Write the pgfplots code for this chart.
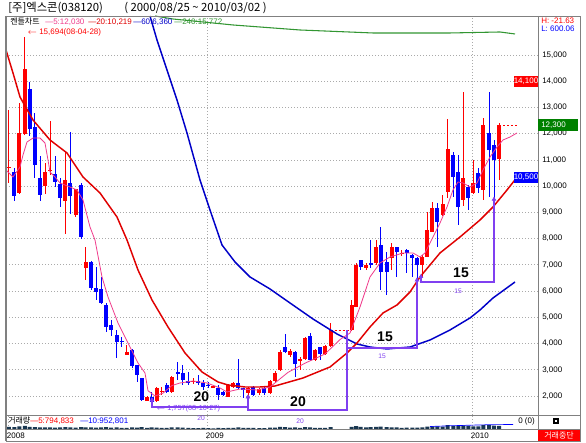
\documentclass[border=0pt]{standalone}
\usepackage{fontspec}
\setmainfont{Liberation Sans}
\newfontfamily\kr{Noto Sans CJK KR}
\usepackage{pgfplots}
\usepackage{pgfplotstable}
\pgfplotsset{compat=1.18}
\definecolor{cred}{RGB}{255,0,0}
\definecolor{cblue}{RGB}{0,0,255}
\definecolor{ma5}{RGB}{240,60,140}
\definecolor{ma20}{RGB}{224,0,0}
\definecolor{ma60}{RGB}{0,0,200}
\definecolor{ma240}{RGB}{50,150,50}
\definecolor{vio}{RGB}{128,64,240}
\definecolor{frame}{RGB}{128,128,128}
\definecolor{gridc}{RGB}{170,170,170}
\definecolor{gbox}{RGB}{0,128,0}
\definecolor{volc}{RGB}{25,55,80}
\newcommand\fs{\fontsize{6}{7}\selectfont}

\pgfplotstableread{
x o h l c
9 10700 12897 10103 10740
19.3 9747 13151 9700 12033
25 11982 15694 11950 14446
45 10001 10890 9696 10547
50 10580 12478 10420 10611
65.3 9430 11335 8172 10230
75.7 8896 9900 8807 9874
85.7 6864 7690 6420 7118
126.7 3562 3943 3560 3689
147 1820 1990 1800 1950
156.7 1822 2330 1790 2292
161.7 2150 2350 2050 2200
171.7 2165 2780 2130 2737
193.3 2540 2700 2450 2570
213.3 2330 2400 2300 2360
228.3 1975 2450 1950 2419
233.3 2330 2530 2300 2483
248.3 2102 2330 1975 2292
259.3 2102 2300 2050 2254
270 2102 2620 2080 2584
275 2584 2950 2550 2889
280 3000 3752 2970 3660
290 3562 3800 3500 3714
300 3370 3499 2990 3397
305 3397 4261 3370 4198
315 3372 3800 3350 3753
325 3600 3950 3580 3905
330.7 3905 4770 3880 4515
351.7 4515 5657 4515 5467
356 5404 7050 5380 6991
366 6864 7050 6800 6991
376 7055 7944 6990 7690
391.7 7245 7817 6801 7690
401.7 7420 7560 7330 7450
422.3 6991 7370 6547 7308
427.3 7308 9023 7280 8325
432.3 8261 9404 8230 9175
442.7 8896 9658 8860 9302
447.7 9785 12541 9531 11398
463.3 9468 13595 9230 10293
473.3 9722 10992 9700 10102
483.3 9849 12579 9468 12325
499 11017 12400 10230 12325
}\up

\pgfplotstableread{
x o h l c
14.3 10547 10674 9442 9620
29.7 13684 13976 11890 12160
35 12236 12795 10293 10801
40 10293 11144 9442 9658
55 10445 11144 9975 10166
60 10064 10293 9213 9556
70.3 10102 12071 8934 9620
81 10039 10100 8000 8045
91 7118 7150 6040 6102
96 6102 6928 5658 5975
101 6064 6547 5500 5556
106 5467 5530 4451 4642
111 4705 4900 4299 4515
116.7 4324 4515 3435 4070
121.7 4100 4260 3880 4070
132 3753 3800 3050 3143
137 3180 3200 2546 2800
141.7 2674 2700 1800 1848
151.7 1975 2165 1757 1783
166.7 2419 2483 2102 2165
177.7 2900 3308 2610 2860
182.7 2864 3181 2419 2610
188.3 2560 2927 2420 2540
198.3 2560 2800 2400 2500
203.3 2483 2610 2229 2330
208.3 2420 2550 2300 2380
218.3 2292 2419 1848 2038
223.3 2165 2200 1990 2038
238.3 2483 3397 2250 2292
243.3 2300 2320 1910 2260
253.3 2330 2380 2000 2038
264.3 2292 2330 2050 2102
285 3879 4362 3650 3688
295 3688 3700 2737 3219
310 4286 4388 3346 3372
320 3855 3880 3372 3600
360.7 7182 7200 6801 6927
370.7 7050 7944 6864 7000
380.7 7753 8450 6039 6737
386.7 7118 7499 5848 6737
396.7 7664 7690 6522 7499
406.7 7550 7600 6674 7450
412.3 7372 7420 6547 7245
417.3 7245 7300 6420 7000
437.3 9175 9370 7690 8642
453.3 11182 11300 9595 10357
458.3 10547 11182 8515 9214
468.3 9976 10050 9087 9531
478.3 10484 10700 9722 9912
489 12008 13595 9595 11373
494 11563 11754 9494 10992
}\down

\pgfplotstableread{
x v
9 2200
14.3 1800
19.3 2600
25 3000
29.7 2200
35 1900
40 1700
45 1500
50 1600
55 1400
60 1500
65.3 1900
70.3 1700
75.7 1400
81 1800
85.7 1600
91 1500
96 1400
101 1500
106 1800
111 1300
116.7 1600
121.7 1200
126.7 1100
132 1500
137 1400
141.7 1900
147 1200
151.7 1500
156.7 1400
161.7 1100
166.7 1000
171.7 1500
177.7 1600
182.7 1300
188.3 1000
193.3 900
198.3 900
203.3 1000
208.3 800
213.3 700
218.3 1100
223.3 900
228.3 1200
233.3 1000
238.3 1500
243.3 1000
248.3 1100
253.3 1000
259.3 900
264.3 900
270 1300
275 1400
280 2000
285 1800
290 1300
295 1500
300 1200
305 1800
310 1700
315 1200
320 1100
325 1200
330.7 1800
351.7 2200
356 2800
360.7 2000
366 1500
370.7 1800
376 2000
380.7 2400
386.7 1900
391.7 1700
396.7 1600
401.7 1200
406.7 1400
412.3 1300
417.3 1400
422.3 1500
427.3 2400
432.3 2600
437.3 2500
442.7 2300
447.7 3800
453.3 3200
458.3 3400
463.3 3600
468.3 2800
473.3 2600
478.3 2700
483.3 3800
489 3900
494 3300
499 3000
}\vol

\begin{document}
\begin{tikzpicture}
\path[use as bounding box] (0,0) rectangle (439.5pt,332.25pt);
\fill[white] (0,0) rectangle (439.5pt,332.25pt);
\begin{axis}[
  at={(4.5pt,21pt)}, anchor=south west,
  scale only axis, width=399pt, height=299.25pt,
  xmin=6, xmax=538, ymin=1276, ymax=16478,
  axis line style={draw=frame},
  xtick={207,472}, xticklabels={},
  ytick={2000,3000,...,15000},
  scaled y ticks=false,
  yticklabel pos=right,
  yticklabel style={font=\fs, anchor=west, inner sep=0pt, xshift=3pt},
  /pgf/number format/fixed,
  /pgf/number format/1000 sep={,},
  /pgf/number format/assume math mode=true,
  major tick length=0pt,
  grid=major, grid style={gridc, dash pattern=on 0.75pt off 1.5pt},
  clip=true,
  candle/.style={draw=none, mark=none, error bars/.cd, y dir=both, y explicit, error mark=none},
]
% wicks
\addplot[candle, error bar style={draw=cred, line width=0.75pt}]
  table[x=x, y expr={(\thisrow{h}+\thisrow{l})/2}, y error expr={(\thisrow{h}-\thisrow{l})/2}] {\up};
\addplot[candle, error bar style={draw=cblue, line width=0.75pt}]
  table[x=x, y expr={(\thisrow{h}+\thisrow{l})/2}, y error expr={(\thisrow{h}-\thisrow{l})/2}] {\down};
% bodies
\addplot[candle, error bar style={draw=cred, line width=3pt}]
  table[x=x, y expr={(\thisrow{o}+\thisrow{c})/2}, y error expr={max(abs(\thisrow{o}-\thisrow{c})/2,20)}] {\up};
\addplot[candle, error bar style={draw=cblue, line width=3pt}]
  table[x=x, y expr={(\thisrow{o}+\thisrow{c})/2}, y error expr={max(abs(\thisrow{o}-\thisrow{c})/2,20)}] {\down};
% halted periods
\addplot[cred, dash pattern=on 1.5pt off 1.5pt, line width=0.6pt] coordinates {(330.7,4515) (351.7,4515)};
\addplot[cred, dash pattern=on 1.5pt off 1.5pt, line width=0.6pt] coordinates {(499,12325) (518,12325)};
% moving averages
\addplot[ma240, line width=0.8pt] coordinates {(155,16478) (173,16364) (233,16136) (300,15945) (373,15831) (450,15831) (500,15869) (515,15793)};
\addplot[ma60, line width=1.1pt] coordinates {(150,16478) (157,15564) (177,13278) (187,12021) (200,10230) (210,9087) (222,7754) (235,7106) (250,6535) (270,6077) (290,5544) (313,4934) (337,4363) (357,3982) (370,3867) (387,3791) (410,3867) (430,4134) (450,4515) (470,4972) (480,5277) (493,5734) (515,6344)};
\addplot[ma20, line width=1.1pt] coordinates {(6,15183) (13,14307) (20,13392) (33,12516) (50,11754) (67,11259) (83,10344) (100,9735) (117,8820) (127,7944) (138,6801) (152,5658) (168,4629) (185,3639) (202,2915) (218,2534) (228,2420) (245,2343) (260,2343) (275,2381) (303,2686) (330,3105) (347,3639) (357,4020) (370,4629) (383,5163) (397,5468) (410,5963) (420,6535) (440,7449) (460,8058) (480,8706) (493,9201) (507,9849) (518,10382)};
\addplot[ma5, line width=0.6pt] coordinates {(6,10611) (13,10344) (20,10725) (23,11183) (27,11678) (33,11830) (40,11830) (45,11640) (48,10992) (50,10535) (55,10344) (60,10116) (70,9963) (77,9849) (83,9468) (90,8439) (95,7944) (102,6535) (108,5773) (118,4782) (128,4020) (138,3258) (145,2877) (148,2200) (155,2000) (163,2110) (172,2400) (180,2496) (193,2572) (207,2496) (220,2305) (227,2153) (240,2267) (257,2229) (270,2343) (288,2900) (305,3250) (325,3600) (340,4150) (350,4400) (360,5391) (370,6535) (380,7068) (390,7296) (403,7449) (413,7449) (420,7296) (425,7449) (433,8058) (440,8592) (447,9201) (453,9849) (458,10154) (463,10116) (470,9963) (477,10116) (483,10611) (490,11106) (497,11487) (503,11754) (510,11868) (517,12021)};
% pattern annotations
\addplot[vio, line width=1pt] coordinates {(152,1848) (152,1581) (248,1581)};
\addplot[vio, line width=1pt] coordinates {(248,1962) (248,1467) (347,1467) (347,4515)};
\addplot[vio, line width=1pt] coordinates {(347,3829) (417,3829) (417,6420)};
\addplot[vio, line width=1pt] coordinates {(421,6547) (421,6344) (494,6344) (494,9494)};
\addplot[vio, only marks, mark=triangle*, mark size=1.6pt] coordinates {(152,1850) (248,1962) (417,6420) (421,6547) (494,9494)};
\end{axis}

\begin{axis}[
  at={(4.5pt,10.5pt)}, anchor=south west,
  scale only axis, width=399pt, height=10.5pt,
  xmin=6, xmax=538, ymin=0, ymax=14000,
  axis line style={draw=frame},
  ytick=\empty,
  xtick={8,207,472}, xticklabels={2008,2009,2010},
  xticklabel style={font=\fs, anchor=north west, inner sep=0pt, yshift=-2.5pt, xshift=-1pt},
  major tick length=0pt,
  xmajorgrids, grid style={gridc, dash pattern=on 0.75pt off 1.5pt},
  clip=true,
]
\addplot[ybar, bar width=3pt, fill=volc, draw=none] table[x=x, y=v] {\vol};
\addplot[cblue, line width=0.5pt] coordinates {(430,2500) (450,3200) (470,3800) (490,4300) (513,4500)};
\end{axis}

\begin{scope}[x=0.75pt, y=-0.75pt, shift={(0pt,332.25pt)}]
\draw[frame, line width=0.6pt] (6,16) rectangle (580,441);
\draw[frame, line width=1.2pt] (6,16) -- (6,441);
\draw[frame, line width=0.6pt] (538,16) -- (538,441);
\draw[frame, line width=0.6pt] (6,415) -- (580,415);
\draw[frame, line width=0.6pt] (6,429) -- (580,429);
\draw[gridc, dash pattern=on 0.75pt off 1.5pt] (207,429) -- (207,441) (472,429) -- (472,441);
% header
\node[anchor=west, inner sep=0pt, font=\kr\fontsize{8.5}{10}\selectfont] at (8,8) {[주]엑스콘(038120)};
\node[anchor=west, inner sep=0pt, font=\kr\fontsize{8.5}{10}\selectfont] at (124,8) {( 2000/08/25 \textasciitilde{} 2010/03/02 )};
% legend line
\node[anchor=west, inner sep=0pt, font=\kr\fs] at (10,22) {켄들차트};
\node[anchor=west, inner sep=0pt, font=\fs, text=ma5] at (45,22) {—5:12,030};
\node[anchor=west, inner sep=0pt, font=\fs, text=ma20] at (88,22) {—20:10,219};
\node[anchor=west, inner sep=0pt, font=\fs, text=ma60] at (133,22) {—60:6,360};
\node[anchor=west, inner sep=0pt, font=\fs, text=ma240] at (174,22) {—240:15,772};
\node[anchor=west, inner sep=0pt, font=\fs, text=cred] at (27,32) {$\leftarrow$ 15,694(08-04-28)};
% right column
\node[anchor=west, inner sep=0pt, font=\fs, text=cred] at (541,21) {H: -21.63};
\node[anchor=west, inner sep=0pt, font=\fs, text=cblue] at (541,29) {L: 600.06};
\fill[cred] (514,76) rectangle (538,87);
\node[inner sep=0pt, font=\fs, text=white] at (526,81.5) {14,100};
\fill[gbox] (538,119) rectangle (578,131);
\node[anchor=west, inner sep=0pt, font=\fs, text=white] at (541,125) {12,300};
\fill[cblue] (514,172) rectangle (538,183);
\node[inner sep=0pt, font=\fs, text=white] at (526,177.5) {10,500};
% pattern labels
\node[font=\fontsize{10.5}{12}\selectfont\bfseries] at (201.5,397) {20};
\node[font=\fontsize{10.5}{12}\selectfont\bfseries] at (298,402) {20};
\node[font=\fontsize{10.5}{12}\selectfont\bfseries] at (385,337) {15};
\node[font=\fontsize{10.5}{12}\selectfont\bfseries] at (461,273) {15};
\node[font=\fontsize{5}{6}\selectfont, text=vio] at (382,356) {15};
\node[font=\fontsize{5}{6}\selectfont, text=vio] at (458,291) {15};
\node[font=\fontsize{5}{6}\selectfont, text=vio] at (201,418) {20};
\node[font=\fontsize{5}{6}\selectfont, text=vio] at (300,421) {20};
\node[anchor=west, inner sep=0pt, font=\fontsize{5.5}{6}\selectfont, text=vio] at (156,409) {$\leftarrow$ 1,757(08-10-27)};
% volume panel
\node[anchor=west, inner sep=0pt, font=\kr\fs] at (8,421) {거래량};
\node[anchor=west, inner sep=0pt, font=\fs, text=cred] at (30,421) {—5:794,833};
\node[anchor=west, inner sep=0pt, font=\fs, text=cblue] at (80,421) {—10:952,801};
\node[anchor=east, inner sep=0pt, font=\fs] at (535,421) {0 (0)};
\fill[black] (553,418) rectangle (559,424);
\fill[white] (555,420) rectangle (557,422);
\fill[cred] (538,430) rectangle (580,441);
\node[inner sep=0pt, font=\kr\fs, text=white] at (559,435.5) {거래중단};
\end{scope}
\end{tikzpicture}
\end{document}
